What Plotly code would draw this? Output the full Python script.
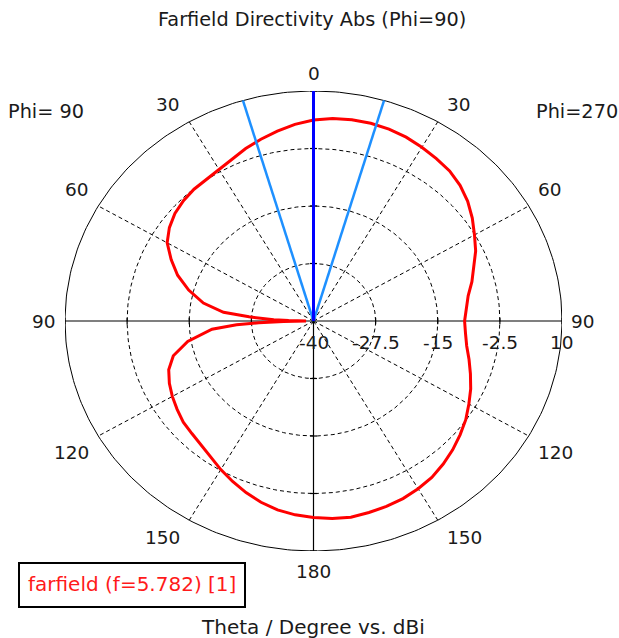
import numpy as np
import plotly.graph_objects as go

# ---------------- data ----------------
title = "Farfield Directivity Abs (Phi=90)"
x_title = "Theta / Degree vs. dBi"
legend_text = "farfield (f=5.782) [1]"

r_ticks = [-40, -27.5, -15, -2.5, 10]          # dBi rings (center .. outer)
r_tick_labels = ["-40", "-27.5", "-15", "-2.5", "10"]
angle_ticks = [0, 30, 60, 90, 120, 150, 180]    # theta labels (both sides)
angle_labels = ["0", "30", "60", "90", "120", "150", "180"]

# Phi = 270 half (drawn on the right side)
theta_270 = [0, 5, 10, 15, 20, 25, 30, 35, 40, 45, 50, 55, 60, 65, 70, 75, 80, 85, 90,
             95, 100, 105, 110, 115, 120, 125, 130, 135, 140, 145, 150, 155, 160, 165,
             170, 175, 180]
dbi_270 = [3.7, 4.2, 4.4, 4.5, 4.4, 4.1, 3.6, 3.1, 2.6, 1.7, 0.5, -1.0, -2.6, -4.0, -5.7,
           -7.0, -8.4, -9.2, -9.6, -9.3, -8.7, -7.6, -6.4, -5.1, -3.9, -2.6, -1.5, -0.4,
           0.6, 1.5, 2.1, 2.6, 2.9, 3.1, 3.3, 3.1, 2.7]

# Phi = 90 half (drawn on the left side)
theta_90 = [0, 5, 10, 15, 20, 25, 30, 35, 40, 45, 50, 55, 60, 65, 70, 75, 80, 84, 86, 88,
            89, 90, 91, 92, 93, 95, 97, 100, 105, 110, 115, 120, 125, 130, 135, 140, 145,
            150, 155, 160, 165, 170, 175, 180]
dbi_90 = [3.7, 2.9, 1.9, 0.9, -0.1, -1.2, -2.0, -2.4, -2.6, -3.0, -3.6, -4.6, -6.0, -8.4,
          -10.9, -14.0, -17.5, -21.8, -27.0, -32.0, -35.0, -38.5, -34.0, -29.0, -24.5,
          -19.5, -17.5, -14.3, -10.8, -9.0, -8.0, -7.2, -6.5, -5.8, -5.4, -4.9, -3.9,
          -2.7, -1.5, -0.3, 0.8, 1.7, 2.3, 2.7]

main_lobe_dir = 0.0        # degrees
half_width = 16.5          # degrees (angular width lines at +/-)

# ---------------- helpers ----------------
RMIN, RMAX = r_ticks[0], r_ticks[-1]


def norm(v):
    return (np.asarray(v, dtype=float) - RMIN) / (RMAX - RMIN)


def to_xy(theta_deg, dbi, side):
    t = np.radians(np.asarray(theta_deg, dtype=float))
    rn = np.clip(norm(dbi), 0, None)
    return side * rn * np.sin(t), rn * np.cos(t)


fig = go.Figure()
GRID = "#000000"

# dashed rings
phi = np.linspace(0, 2 * np.pi, 361)
for rv in r_ticks[1:-1]:
    rn = norm(rv)
    fig.add_trace(go.Scatter(x=rn * np.cos(phi), y=rn * np.sin(phi), mode="lines",
                             line=dict(color=GRID, width=1, dash="4px,3px"),
                             hoverinfo="skip", showlegend=False))
# outer ring solid
fig.add_trace(go.Scatter(x=np.cos(phi), y=np.sin(phi), mode="lines",
                         line=dict(color=GRID, width=1), hoverinfo="skip", showlegend=False))

# dashed spokes
for a in angle_ticks:
    if a in (0, 90, 180):
        continue
    for side in (-1, 1):
        xs, ys = to_xy([a, a], [RMIN, RMAX], side)
        fig.add_trace(go.Scatter(x=xs, y=ys, mode="lines",
                                 line=dict(color=GRID, width=1, dash="4px,3px"),
                                 hoverinfo="skip", showlegend=False))
# solid axes
fig.add_trace(go.Scatter(x=[-1, 1], y=[0, 0], mode="lines",
                         line=dict(color=GRID, width=1.2), hoverinfo="skip", showlegend=False))
fig.add_trace(go.Scatter(x=[0, 0], y=[-1, 1], mode="lines",
                         line=dict(color=GRID, width=1.2), hoverinfo="skip", showlegend=False))
# tick marks
tk = 0.014
for rv in r_ticks[1:]:
    rn = norm(rv)
    for s in (-1, 1):
        fig.add_trace(go.Scatter(x=[s * rn, s * rn], y=[-tk, tk], mode="lines",
                                 line=dict(color=GRID, width=1.2), hoverinfo="skip",
                                 showlegend=False))
        fig.add_trace(go.Scatter(x=[-tk, tk], y=[s * rn, s * rn], mode="lines",
                                 line=dict(color=GRID, width=1.2), hoverinfo="skip",
                                 showlegend=False))

# pattern curve (closed)
xl, yl = to_xy(theta_90[::-1], dbi_90[::-1], -1)
xr, yr = to_xy(theta_270, dbi_270, 1)
cx = np.concatenate([xl, xr[1:], xl[:1]])
cy = np.concatenate([yl, yr[1:], yl[:1]])
fig.add_trace(go.Scatter(x=cx, y=cy, mode="lines",
                         line=dict(color="#ff0000", width=3),
                         hoverinfo="skip", showlegend=False))

# angular width lines and main lobe
for s in (-1, 1):
    xs, ys = to_xy([half_width, half_width], [RMIN, RMAX], s)
    fig.add_trace(go.Scatter(x=xs, y=ys, mode="lines",
                             line=dict(color="#1e90ff", width=2.5),
                             hoverinfo="skip", showlegend=False))
xs, ys = to_xy([main_lobe_dir, main_lobe_dir], [RMIN, RMAX], 1)
fig.add_trace(go.Scatter(x=xs, y=ys, mode="lines",
                         line=dict(color="#0000ff", width=3),
                         hoverinfo="skip", showlegend=False))

# ---------------- layout / text ----------------
W, H = 619, 638
ML, MR, MT, MB = 65, 57, 91, 87
PW, PH = W - ML - MR, H - MT - MB
CXP, CYP = ML + PW / 2, MT + PH / 2
FONT = "DejaVu Sans"
TXT = "#1a1a1a"
TICK_SIZE = 18.5


def px2paper(px, py):
    return (px - ML) / PW, (H - MB - py) / PH


ann = []


def add_text(text, px, py, size=TICK_SIZE, color=TXT, xanchor="center"):
    x, y = px2paper(px, py)
    ann.append(dict(text=text, x=x, y=y, xref="paper", yref="paper", showarrow=False,
                    xanchor=xanchor, yanchor="middle",
                    font=dict(family=FONT, size=size, color=color)))


add_text(title, 312, 19, size=19.3)
add_text("Phi= 90", 46, 112, size=19.3)
add_text("Phi=270", 577, 112, size=19.3)
add_text(x_title, 313, 627, size=20)

for a, lab in zip(angle_ticks, angle_labels):
    t = np.radians(a)
    ex, ey = PW / 2 * np.sin(t), PH / 2 * np.cos(t)
    if a in (0, 180):
        off = 18 if a == 0 else 20
        add_text(lab, CXP, CYP - ey - np.sign(ey) * off)
        continue
    voff = 0 if a == 90 else 17 * np.sign(ey)
    for s in (-1, 1):
        add_text(lab, CXP + s * (ex + 7), CYP - ey - voff,
                 xanchor="left" if s > 0 else "right")

for rv, lab in zip(r_ticks, r_tick_labels):
    add_text(lab, CXP + norm(rv) * PW / 2, 342)

# legend box
bx0, by0 = px2paper(19, 563)
bx1, by1 = px2paper(245, 607)
shapes = [dict(type="rect", xref="paper", yref="paper", x0=bx0, y0=by0, x1=bx1, y1=by1,
               line=dict(color="#000000", width=2), fillcolor="white")]
add_text(legend_text, 132, 584, size=20, color="#ff1a1a")

fig.update_layout(
    width=W, height=H,
    margin=dict(l=ML, r=MR, t=MT, b=MB, autoexpand=False),
    paper_bgcolor="white", plot_bgcolor="white",
    xaxis=dict(range=[-1, 1], visible=False, fixedrange=True),
    yaxis=dict(range=[-1, 1], visible=False, fixedrange=True),
    annotations=ann, shapes=shapes, showlegend=False,
)

fig.write_html("out.html")
